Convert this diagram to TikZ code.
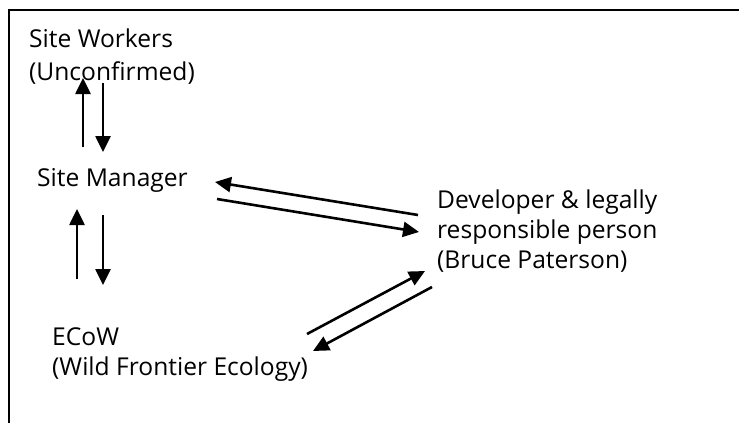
\documentclass[tikz,border=0pt]{standalone}
\usepackage{fontspec}
\setmainfont{Open Sans}
\usetikzlibrary{arrows.meta}
\begin{document}
\begin{tikzpicture}[x=1pt,y=-1pt,
  lbl/.style={anchor=base west, inner sep=0pt, align=left, font=\fontsize{24.6}{30}\selectfont},
  conn/.style={line width=2.6pt, -{Triangle[length=16pt,width=15pt]}},
  frame/.style={line width=2.6pt}]
\useasboundingbox (0,0) rectangle (739,423);
\coordinate (fb) at (9,424);
\coordinate (fc) at (9,10);
\coordinate (fr) at (740,10);
\draw[frame] (fb) -- (fc) -- (fr);

% base anchor = baseline of the last line
\node[lbl] (sw) at (29,80) {Site Workers\\[3pt](Unconfirmed)};
\node[lbl] (sm) at (37,186) {Site Manager};
\node[lbl] (ecow) at (52,375) {ECoW\\(Wild Frontier Ecology)};
\node[lbl] (dev) at (437,268) {Developer \& legally\\responsible person\\(Bruce Paterson)};

% arrow end points
\coordinate (swUp) at (83,78);
\coordinate (smUpT) at (83,147);
\coordinate (swDn) at (103,83);
\coordinate (smDnH) at (103,152);
\coordinate (smUp) at (77,209);
\coordinate (ecUpT) at (77,279);
\coordinate (smDn) at (103,215);
\coordinate (ecDnH) at (103,285);
\coordinate (devL1) at (418,215);
\coordinate (smR1) at (215,182);
\coordinate (smR2) at (217,199);
\coordinate (devL2) at (419,232);
\coordinate (ecR1) at (307,334);
\coordinate (devB1) at (425,271);
\coordinate (devB2) at (432,287);
\coordinate (ecR2) at (313,351);

\draw[conn] (smUpT) -- (swUp);
\draw[conn] (swDn) -- (smDnH);
\draw[conn] (ecUpT) -- (smUp);
\draw[conn] (smDn) -- (ecDnH);
\draw[conn] (devL1) -- (smR1);
\draw[conn] (smR2) -- (devL2);
\draw[conn] (ecR1) -- (devB1);
\draw[conn] (devB2) -- (ecR2);
\end{tikzpicture}
\end{document}
